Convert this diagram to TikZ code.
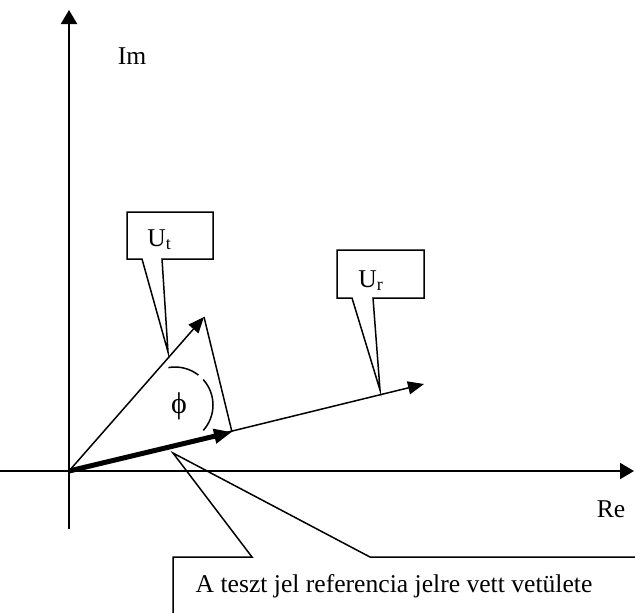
\documentclass[tikz,border=0pt]{standalone}
\usepackage{fontspec}
\setmainfont{Liberation Serif}
\usetikzlibrary{arrows.meta, positioning, calc}

\begin{document}
\begin{tikzpicture}[x=0.5pt, y=-0.5pt,
    font=\fontsize{12.8pt}{15pt}\selectfont,
    axis/.style={line width=1pt, -{Triangle[length=7pt,width=8pt]}},
    vec/.style={line width=0.75pt, -{Triangle[length=8pt,width=6.5pt]}},
    thickvec/.style={line width=2.5pt, -{Triangle[length=9pt,width=7pt]}},
    callout/.style={line width=0.75pt, line join=miter},
    lbl/.style={inner sep=0pt}]
  \useasboundingbox (0,0) rectangle (635,612);
  \clip (0,0) rectangle (635,612);

  % axes
  \coordinate (O) at (69,471);
  \coordinate (imlo) at (69,529);
  \coordinate (imhi) at (69,10);
  \coordinate (relo) at (0,471);
  \coordinate (rehi) at (634,471);
  \draw[axis] (imlo) -- (imhi);
  \draw[axis] (relo) -- (rehi);
  \node[lbl, anchor=base] (im) at (132,64) {Im};
  \node[lbl, anchor=base] (re) at (611,517) {Re};

  % vectors
  \coordinate (ut) at (204,317);
  \coordinate (ur) at (424,384);
  \coordinate (proj) at (232,432);
  \draw[vec] (O) -- (ur);
  \draw[vec] (O) -- (ut);
  \draw[line width=0.75pt] (ut) -- (proj);
  \draw[thickvec] (O) -- (proj);

  % angle
  \coordinate (c) at (175,405);
  \draw[line width=0.75pt] (c) ++(100:19pt) arc[start angle=100, end angle=52, radius=19pt];
  \draw[line width=0.75pt] (c) ++(42:19pt) arc[start angle=42, end angle=-42, radius=19pt];
  \node[lbl, font=\fontsize{15pt}{17pt}\selectfont] (phi) at (179,406) {ϕ};

  % callouts
  \coordinate (uttip) at (168,352);
  \draw[callout] (142,259) -- (127,259) -- (127,212) -- (213,212) -- (213,259)
    -- (162,259) -- (uttip) -- cycle;
  \node[lbl, anchor=base west] (utlbl) at (147,246) {U\textsubscript{t}};

  \coordinate (urtip) at (380,390);
  \draw[callout] (352,298) -- (337,298) -- (337,250) -- (424,250) -- (424,298)
    -- (373,298) -- (urtip) -- cycle;
  \node[lbl, anchor=base west] (urlbl) at (358,287) {U\textsubscript{r}};

  \coordinate (prtip) at (173,453);
  \draw[callout] (173,640) -- (173,557) -- (252,557) -- (prtip) -- (370,557) -- (660,557);
  \node[lbl, anchor=base] (prlbl) at (394,592) {A teszt jel referencia jelre vett vetülete};
\end{tikzpicture}
\end{document}
